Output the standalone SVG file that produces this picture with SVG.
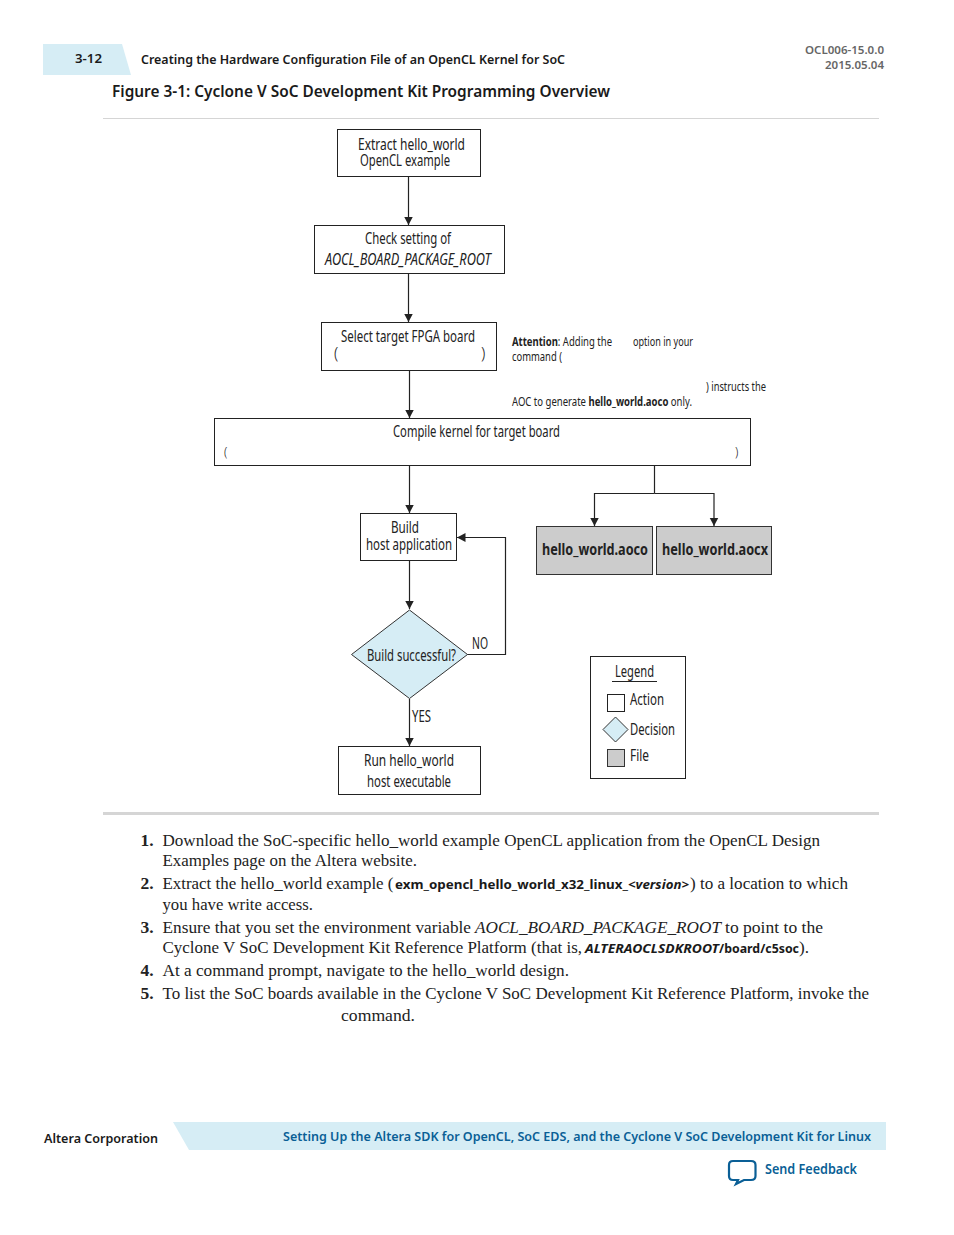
<svg xmlns="http://www.w3.org/2000/svg" width="954" height="1235" viewBox="0 0 954 1235">
<style>
text{font-family:"Noto Sans","Open Sans",sans-serif;fill:#1a1a1a}
.h{font-weight:600}
.d{font-family:"Noto Sans",sans-serif;font-stretch:75%;font-size:15.500px;fill:#222;transform:translateY(-.5px)}
.p{font-family:"Noto Sans",sans-serif;font-stretch:75%;font-weight:300;font-size:15.500px;fill:#222}
.n{font-family:"Noto Sans",sans-serif;font-stretch:75%;font-size:12px;fill:#222}
.b{font-family:"Liberation Serif",serif;font-size:17.5px;fill:#222}
.num{font-weight:700}
.m{font-family:"Noto Sans",sans-serif;font-size:12px;font-weight:700}
.r{font-size:11px;font-weight:600;fill:#666}
.box{fill:#fff;stroke:#222;stroke-width:1}
.file{fill:#ccc;stroke:#333;stroke-width:1}
.dec{fill:#d6edf5;stroke:#333;stroke-width:1}
.c{fill:none;stroke:#222;stroke-width:1.2;marker-end:url(#a)}
.c0{fill:none;stroke:#222;stroke-width:1.2}
.link{fill:#0a5f96;font-weight:600}
</style>
<defs>
<marker id="a" markerUnits="userSpaceOnUse" markerWidth="10" markerHeight="10" refX="8.5" refY="4.500" orient="auto"><path d="M0 0L8.500 4.500L0 9z" fill="#222"/></marker>
</defs>
<rect width="954" height="1235" fill="#fff"/>
<g id="header">
<path d="M43 44H122L131 75H43z" fill="#d6edf5"/>
<text class="h" x="75" y="63" font-size="13" textLength="27" lengthAdjust="spacingAndGlyphs">3-12</text>
<text class="h" x="141" y="64" font-size="13" textLength="424" lengthAdjust="spacingAndGlyphs">Creating the Hardware Configuration File of an OpenCL Kernel for SoC</text>
<text class="r" x="805" y="54" textLength="79" lengthAdjust="spacingAndGlyphs">OCL006-15.0.0</text>
<text class="r" x="825" y="69" textLength="59" lengthAdjust="spacingAndGlyphs">2015.05.04</text>
<text class="h" x="112" y="97" font-size="16.500" textLength="498" lengthAdjust="spacingAndGlyphs">Figure 3-1: Cyclone V SoC Development Kit Programming Overview</text>
<rect x="103" y="118" width="776" height="1" fill="#d5d5d5"/>
</g>
<g id="connectors">
<path class="c" d="M408.500 177V225"/>
<path class="c" d="M408.500 274V322"/>
<path class="c" d="M409.500 371V418"/>
<path class="c" d="M409.500 466V513"/>
<path class="c" d="M409.500 561V609"/>
<path class="c" d="M409.500 699V746"/>
<path class="c" d="M467 654.500H505.500V537.500H457"/>
<path class="c0" d="M654.500 466V493.500"/>
<path class="c" d="M654.500 493.500H594.500V526"/>
<path class="c" d="M654.500 493.500H714V526"/>
</g>
<g id="n1"><rect class="box" x="337.500" y="129.500" width="143" height="47"/>
<text class="d" x="358" y="150" textLength="107" lengthAdjust="spacingAndGlyphs">Extract hello_world</text>
<text class="d" x="360" y="166" textLength="90" lengthAdjust="spacingAndGlyphs">OpenCL example</text></g>
<g id="n2"><rect class="box" x="314.500" y="225.500" width="190" height="48"/>
<text class="d" x="365" y="244" textLength="86" lengthAdjust="spacingAndGlyphs">Check setting of</text>
<text class="d" x="325" y="265" font-style="italic" textLength="166" lengthAdjust="spacingAndGlyphs">AOCL_BOARD_PACKAGE_ROOT</text></g>
<g id="n3"><rect class="box" x="321.500" y="322.500" width="175" height="48"/>
<text class="d" x="341" y="342" textLength="134" lengthAdjust="spacingAndGlyphs">Select target FPGA board</text>
<text class="p" x="334" y="359">(</text><text class="p" x="481" y="359">)</text></g>
<g id="note">
<text class="n" x="512" y="346" textLength="100" lengthAdjust="spacingAndGlyphs"><tspan font-weight="700">Attention</tspan>: Adding the</text>
<text class="n" x="633" y="346" textLength="60" lengthAdjust="spacingAndGlyphs">option in your</text>
<text class="n" x="512" y="361" textLength="50" lengthAdjust="spacingAndGlyphs">command (</text>
<text class="n" x="706" y="391" textLength="60" lengthAdjust="spacingAndGlyphs">) instructs the</text>
<text class="n" x="512" y="406" textLength="180" lengthAdjust="spacingAndGlyphs">AOC to generate <tspan font-weight="700">hello_world.aoco</tspan> only.</text>
</g>
<g id="n4"><rect class="box" x="214.500" y="418.500" width="536" height="47"/>
<text class="d" x="393" y="437" textLength="167" lengthAdjust="spacingAndGlyphs">Compile kernel for target board</text>
<text class="n" x="224" y="456" font-weight="300">(</text><text class="n" x="735" y="456" font-weight="300">)</text></g>
<g id="f1"><rect class="file" x="536.500" y="526.500" width="116" height="48"/>
<text class="d" x="542" y="555" font-weight="700" textLength="106" lengthAdjust="spacingAndGlyphs">hello_world.aoco</text></g>
<g id="f2"><rect class="file" x="656.500" y="526.500" width="115" height="48"/>
<text class="d" x="662" y="555" font-weight="700" textLength="106" lengthAdjust="spacingAndGlyphs">hello_world.aocx</text></g>
<g id="n5"><rect class="box" x="360.500" y="513.500" width="96" height="47"/>
<text class="d" x="391" y="533" textLength="28" lengthAdjust="spacingAndGlyphs">Build</text>
<text class="d" x="366" y="550" textLength="86" lengthAdjust="spacingAndGlyphs">host application</text></g>
<g id="n6"><path class="dec" d="M409.500 610L467.500 654.500L409.500 698.500L351.500 654.500z"/>
<text class="d" x="367" y="661" textLength="89" lengthAdjust="spacingAndGlyphs">Build successful?</text></g>
<g id="labels">
<text class="d" x="472" y="649" textLength="16" lengthAdjust="spacingAndGlyphs">NO</text>
<text class="d" x="412" y="722" textLength="19" lengthAdjust="spacingAndGlyphs">YES</text>
</g>
<g id="n7"><rect class="box" x="338.500" y="746.500" width="142" height="48"/>
<text class="d" x="364" y="766" textLength="90" lengthAdjust="spacingAndGlyphs">Run hello_world</text>
<text class="d" x="367" y="787" textLength="84" lengthAdjust="spacingAndGlyphs">host executable</text></g>
<g id="legend"><rect class="box" x="590.500" y="656.500" width="95" height="122"/>
<text class="d" x="615" y="677" textLength="39" lengthAdjust="spacingAndGlyphs">Legend</text>
<rect x="612" y="681" width="45" height="1" fill="#222"/>
<rect class="box" x="607.500" y="694.500" width="17" height="17"/>
<text class="d" x="630" y="705" textLength="34" lengthAdjust="spacingAndGlyphs">Action</text>
<path class="dec" d="M615.500 717L628 729.500L615.500 742L603 729.500z"/>
<text class="d" x="630" y="735" textLength="45" lengthAdjust="spacingAndGlyphs">Decision</text>
<rect class="file" x="607.500" y="749.500" width="17" height="17"/>
<text class="d" x="630" y="761" textLength="19" lengthAdjust="spacingAndGlyphs">File</text></g>
<rect x="103" y="812" width="776" height="3" fill="#d5d5d5"/>
<g id="steps">
<text class="b num" x="140.500" y="846">1.</text>
<text class="b" x="162.500" y="846" textLength="657.500" lengthAdjust="spacingAndGlyphs">Download the SoC-specific hello_world example OpenCL application from the OpenCL Design</text>
<text class="b" x="162.500" y="866" textLength="254.500" lengthAdjust="spacingAndGlyphs">Examples page on the Altera website.</text>
<text class="b num" x="140.500" y="889">2.</text>
<text class="b" x="162.500" y="889" textLength="231" lengthAdjust="spacingAndGlyphs">Extract the hello_world example (</text>
<text class="m" x="395" y="889" textLength="233" lengthAdjust="spacingAndGlyphs">exm_opencl_hello_world_x32_linux_</text>
<text class="m" x="628" y="889" font-style="italic" textLength="61" lengthAdjust="spacingAndGlyphs">&lt;version&gt;</text>
<text class="b" x="690" y="889" textLength="158" lengthAdjust="spacingAndGlyphs">) to a location to which</text>
<text class="b" x="162.500" y="910" textLength="150.500" lengthAdjust="spacingAndGlyphs">you have write access.</text>
<text class="b num" x="140.500" y="933">3.</text>
<text class="b" x="162.500" y="933" textLength="308.500" lengthAdjust="spacingAndGlyphs">Ensure that you set the environment variable</text>
<text class="b" x="475" y="933" font-style="italic" textLength="246" lengthAdjust="spacingAndGlyphs">AOCL_BOARD_PACKAGE_ROOT</text>
<text class="b" x="725" y="933" textLength="98" lengthAdjust="spacingAndGlyphs">to point to the</text>
<text class="b" x="162.500" y="953" textLength="419.500" lengthAdjust="spacingAndGlyphs">Cyclone V SoC Development Kit Reference Platform (that is,</text>
<text class="m" x="585" y="953" font-style="italic" textLength="134" lengthAdjust="spacingAndGlyphs">ALTERAOCLSDKROOT</text>
<text class="m" x="719" y="953" textLength="80" lengthAdjust="spacingAndGlyphs">/board/c5soc</text>
<text class="b" x="799" y="953" textLength="10" lengthAdjust="spacingAndGlyphs">).</text>
<text class="b num" x="140.500" y="976">4.</text>
<text class="b" x="162.500" y="976" textLength="406.500" lengthAdjust="spacingAndGlyphs">At a command prompt, navigate to the hello_world design.</text>
<text class="b num" x="140.500" y="999">5.</text>
<text class="b" x="162.500" y="999" textLength="706.500" lengthAdjust="spacingAndGlyphs">To list the SoC boards available in the Cyclone V SoC Development Kit Reference Platform, invoke the</text>
<text class="b" x="341" y="1021" textLength="74" lengthAdjust="spacingAndGlyphs">command.</text>
</g>
<g id="footer">
<text class="h" x="44" y="1143" font-size="13" textLength="114" lengthAdjust="spacingAndGlyphs">Altera Corporation</text>
<path d="M173 1122H886V1150H189z" fill="#d6edf5"/>
<text class="link" x="283" y="1141" font-size="13" textLength="588" lengthAdjust="spacingAndGlyphs">Setting Up the Altera SDK for OpenCL, SoC EDS, and the Cyclone V SoC Development Kit for Linux</text>
<path d="M733 1161H751Q755.500 1161 755.500 1165V1176Q755.500 1180 751 1180H744L736 1184L738 1180H733Q729 1180 729 1176V1165Q729 1161 733 1161z" fill="#fff" stroke="#0a5f96" stroke-width="2.200"/>
<text class="link" x="765" y="1174" font-size="13.500" textLength="92" lengthAdjust="spacingAndGlyphs">Send Feedback</text>
</g>
</svg>
